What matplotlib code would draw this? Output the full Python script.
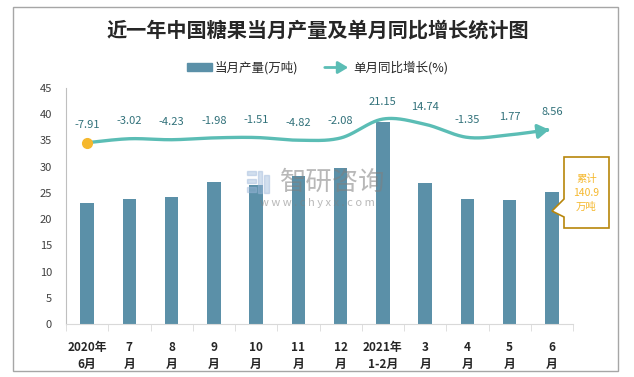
import numpy as np
import matplotlib
matplotlib.use('Agg')
import matplotlib.pyplot as plt
from matplotlib.patches import Rectangle, Polygon, FancyArrowPatch

# ---------------- data ----------------
categories = ['2020年\n6月', '7\n月', '8\n月', '9\n月', '10\n月', '11\n月', '12\n月',
              '2021年\n1-2月', '3\n月', '4\n月', '5\n月', '6\n月']
production = [23.1, 23.9, 24.3, 27.1, 26.5, 28.2, 29.8, 38.5, 26.9, 23.9, 23.7, 25.2]
growth = [-7.91, -3.02, -4.23, -1.98, -1.51, -4.82, -2.08, 21.15, 14.74, -1.35, 1.77, 8.56]
growth_labels = ['-7.91', '-3.02', '-4.23', '-1.98', '-1.51', '-4.82', '-2.08',
                 '21.15', '14.74', '-1.35', '1.77', '8.56']
y_ticks = [0, 5, 10, 15, 20, 25, 30, 35, 40, 45]
legend_bar = '当月产量(万吨)'
legend_line = '单月同比增长(%)'
title = '近一年中国糖果当月产量及单月同比增长统计图'
note = '累计\n140.9\n万吨'

CJK = ['Noto Sans CJK SC', 'DejaVu Sans']
plt.rcParams['font.family'] = CJK

W, H = 634, 377
fig = plt.figure(figsize=(W / 100, H / 100), dpi=100)


def fx(px):
    return px / W


def fy(py):
    return 1 - py / H


BAR_C = '#5B90A8'
LINE_C = '#5BBDB5'

# outer frame
fig.patches.append(Rectangle((fx(13), fy(371)), (618 - 13) / W, (371 - 7) / H,
                             transform=fig.transFigure, fill=False,
                             edgecolor='#A6A6A6', lw=1.0))

ax = fig.add_axes([fx(66), fy(324), (573 - 66) / W, (324 - 88) / H])
x = np.arange(len(categories))
ax.bar(x, production, width=0.32, color=BAR_C, zorder=2)
ax.set_xlim(-0.5, len(categories) - 0.5)
ax.set_ylim(0, 45)
ax.set_yticks(y_ticks)
ax.tick_params(axis='y', length=0, pad=10, labelsize=8, labelcolor='#404040')
for s in ['top', 'right']:
    ax.spines[s].set_visible(False)
ax.spines['left'].set_color('#BFBFBF')
ax.spines['bottom'].set_color('#D9D9D9')
ax.set_xticks(x)
ax.set_xticklabels(categories, fontsize=8.5, fontweight='bold', color='#262626',
                   linespacing=1.45)
ax.tick_params(axis='x', which='major', length=0, pad=12)
ax.set_xticks(np.arange(-0.5, len(categories), 1.0), minor=True)
ax.tick_params(axis='x', which='minor', length=5, color='#D9D9D9', direction='out')

ax2 = ax.twinx()
ax2.set_ylim(-230.6, 59.3)
ax2.axis('off')

# smooth (Catmull-Rom) curve computed in pixel-like space
sx = 42.25
sy = 0.814
px = x * sx
py = np.array(growth) * sy
P = np.column_stack([px, py])
pts = []
n = len(P)
for i in range(n - 1):
    p0 = P[i - 1] if i > 0 else P[i]
    p1 = P[i]
    p2 = P[i + 1]
    p3 = P[i + 2] if i + 2 < n else P[i + 1]
    c1 = p1 + (p2 - p0) / 6.0
    c2 = p2 - (p3 - p1) / 6.0
    t = np.linspace(0, 1, 30)[:, None]
    seg = ((1 - t) ** 3) * p1 + 3 * ((1 - t) ** 2) * t * c1 + 3 * (1 - t) * t ** 2 * c2 + t ** 3 * p2
    pts.append(seg if i == 0 else seg[1:])
curve = np.vstack(pts)
cx = curve[:, 0] / sx
cy = curve[:, 1] / sy
ax2.plot(cx[:-4], cy[:-4], color=LINE_C, lw=2.4, solid_capstyle='butt', zorder=3)
ax2.add_patch(FancyArrowPatch((cx[-8], cy[-8]), (cx[-1], cy[-1]),
                              arrowstyle='-|>,head_length=0.55,head_width=0.35',
                              mutation_scale=12, color=LINE_C, lw=2.4, zorder=3))
ax2.plot([x[0]], [growth[0]], 'o', color='#F5B82E', markersize=7, zorder=4)

for xi, g, lab in zip(x, growth, growth_labels):
    ax2.annotate(lab, (xi, g), xytext=(0, 12.5), textcoords='offset points',
                 ha='center', va='center', fontsize=8, color='#31717A',
                 family=CJK)

# title
fig.text(fx(318), fy(30), title, ha='center', va='center', fontsize=14.5,
         fontweight='bold', color='#262626')

# legend
fig.patches.append(Rectangle((fx(187), fy(71)), 25 / W, 8 / H,
                             transform=fig.transFigure, color=BAR_C))
fig.text(fx(215), fy(67.5), legend_bar, ha='left', va='center', fontsize=9,
         color='#262626')
fig.patches.append(FancyArrowPatch((fx(322), fy(67.5)), (fx(351), fy(67.5)),
                                   transform=fig.transFigure,
                                   arrowstyle='-|>,head_length=0.5,head_width=0.3',
                                   mutation_scale=12, color=LINE_C, lw=2.0))
fig.text(fx(353), fy(67.5), legend_line, ha='left', va='center', fontsize=9,
         color='#262626')

# watermark
for (x0, y0, w0, h0) in [(247, 171, 9, 4), (247, 179, 9, 4), (247, 187, 9, 5),
                         (258, 171, 4, 22), (264, 175, 5, 18)]:
    fig.patches.append(Rectangle((fx(x0), fy(y0 + h0)), w0 / W, h0 / H,
                                 transform=fig.transFigure, color='#9DB8DA',
                                 alpha=0.45, zorder=10))
fig.text(fx(333), fy(182), '智研咨询', ha='center', va='center', fontsize=19,
         color='#7F7F7F', alpha=0.55, zorder=10)
fig.text(fx(317), fy(203), 'w w w . c h y x x . c o m', ha='center', va='center',
         fontsize=8, color='#7F7F7F', alpha=0.55, zorder=10)

# callout box
box = [(564, 157), (609, 157), (609, 228), (564, 228), (564, 217), (552, 211), (564, 199)]
fig.patches.append(Polygon([(fx(a), fy(b)) for a, b in box], closed=True,
                           transform=fig.transFigure, facecolor='white',
                           edgecolor='#B8860B', lw=1.2, zorder=5))
fig.text(fx(586.5), fy(193), note, ha='center', va='center', fontsize=7.5,
         color='#F5B82E', linespacing=1.45, zorder=6)

fig.savefig('out.png', dpi=100)
